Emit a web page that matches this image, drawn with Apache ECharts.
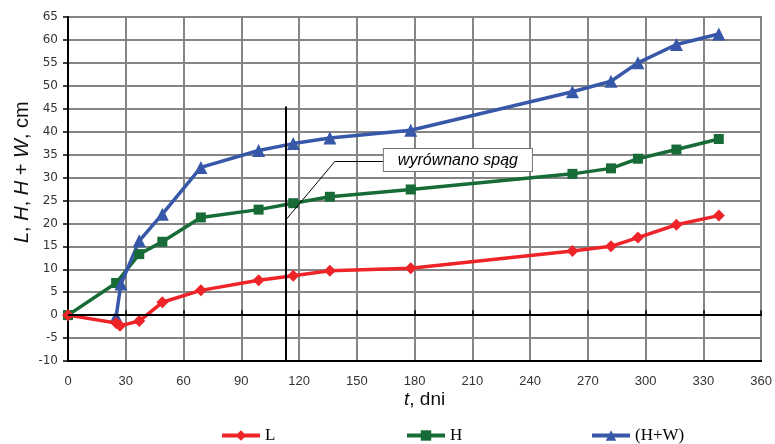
<!DOCTYPE html>
<html>
<head>
<meta charset="utf-8">
<script src="https://cdn.jsdelivr.net/npm/echarts@6/dist/echarts.min.js"></script>
<style>html,body{margin:0;padding:0;background:#fff;}#c{width:775px;height:444px;}</style>
</head>
<body>
<div id="c"></div>
<script>
// ---- data ----
var tL  = [0, 25, 27, 37, 49, 69, 99, 117, 136, 178, 262, 282, 296, 316, 338];
var L   = [0, -1.7, -2.3, -1.3, 2.8, 5.4, 7.6, 8.6, 9.7, 10.2, 14.0, 15.0, 16.9, 19.7, 21.7];
var tH  = [0, 25, 37, 49, 69, 99, 117, 136, 178, 262, 282, 296, 316, 338];
var H   = [0, 7.0, 13.3, 16.0, 21.3, 23.0, 24.4, 25.8, 27.4, 30.8, 32.0, 34.1, 36.1, 38.4];
var tHW = [25, 27.5, 37, 49, 69, 99, 117, 136, 178, 262, 282, 296, 316, 338];
var HW  = [-0.3, 6.8, 16.2, 22.0, 32.2, 35.9, 37.4, 38.6, 40.3, 48.7, 51.0, 55.0, 59.0, 61.3];
var seriesNames = ['L', 'H', '(H+W)'];
var xTicks = {min: 0, max: 360, interval: 30};
var yTicks = {min: -10, max: 65, interval: 5};
var eventT = 113;          // vertical marker line (t)
var eventTop = 45.5;
var noteText = 'wyrównano spąg';

function pairs(t, v) { return t.map(function (x, i) { return [x, v[i]]; }); }

var chart = echarts.init(document.getElementById('c'), null, {renderer: 'canvas'});
var gridCol = '#858585';
var colors = ['#ee2429', '#176b36', '#3757a8'];
var legendBase = {top: 422, itemWidth: 38, itemHeight: 13, lineStyle: {width: 4},
  textStyle: {fontFamily: 'Liberation Serif', fontSize: 17, color: '#000'}};
function lg(name, left) { return Object.assign({}, legendBase, {data: [name], left: left}); }

var option = {
  animation: false,
  grid: {left: 68, right: 12, top: 17, bottom: 83, show: true, borderColor: '#111', borderWidth: 1.5},
  legend: [lg(seriesNames[0], 215), lg(seriesNames[1], 400), lg(seriesNames[2], 585)],
  xAxis: [
    {type: 'value', min: xTicks.min, max: xTicks.max, interval: xTicks.interval,
      axisLine: {show: true, onZero: false, lineStyle: {color: '#000', width: 2}},
      axisTick: {show: false},
      axisLabel: {margin: 14, fontFamily: 'Liberation Sans', fontSize: 13, color: '#333'},
      splitLine: {show: true, lineStyle: {color: gridCol, width: 2}}},
    {type: 'value', min: xTicks.min, max: xTicks.max, interval: xTicks.interval,
      axisLine: {show: true, onZero: true, lineStyle: {color: '#000', width: 2}},
      axisTick: {show: true, inside: false, length: 5, lineStyle: {color: '#000', width: 1.5}},
      axisLabel: {show: false},
      splitLine: {show: false}}
  ],
  yAxis: {type: 'value', min: yTicks.min, max: yTicks.max, interval: yTicks.interval,
    axisLine: {show: true, lineStyle: {color: '#000', width: 2}},
    axisTick: {show: true, inside: false, length: 5, lineStyle: {color: '#000', width: 1.5}},
    axisLabel: {margin: 10, fontFamily: 'DejaVu Sans', fontSize: 12, color: '#333'},
    splitLine: {show: true, lineStyle: {color: gridCol, width: 2}}},
  graphic: [
    {type: 'text', left: 404, top: 390, silent: true,
      style: {text: '{i|t}, dni', fontFamily: 'Liberation Sans', fontSize: 19, fill: '#111',
        rich: {i: {fontStyle: 'italic', fontFamily: 'Liberation Sans', fontSize: 19}}}},
    {type: 'text', x: 12, y: 243, rotation: Math.PI / 2, silent: true,
      style: {text: '{i|L}, {i|H}, {i|H} + {i|W}, cm', fontFamily: 'Liberation Sans', fontSize: 20, fill: '#111',
        rich: {i: {fontStyle: 'italic', fontFamily: 'Liberation Sans', fontSize: 20}}}}
  ],
  series: [
    {name: seriesNames[0], type: 'line', data: pairs(tL, L), color: colors[0],
      symbol: 'diamond', symbolSize: 12, lineStyle: {width: 3.5}, z: 4,
      markLine: {silent: true, symbol: 'none', animation: false, label: {show: false},
        lineStyle: {color: '#000', width: 2, type: 'solid'},
        data: [
          [{coord: [xTicks.min, 0]}, {coord: [xTicks.max, 0]}],
          [{coord: [eventT, yTicks.min]}, {coord: [eventT, eventTop]}],
          [{coord: [113.4, 20.9], lineStyle: {width: 1}}, {coord: [138.8, 33.6]}],
          [{coord: [138.8, 33.6], lineStyle: {width: 1}}, {coord: [163.6, 33.6]}]
        ]},
      markPoint: {silent: true, symbol: 'rect', symbolSize: 0, animation: false,
        data: [{coord: [202.5, 33.8],
          label: {show: true, position: 'inside', formatter: noteText, fontFamily: 'Liberation Sans',
            fontStyle: 'italic', fontSize: 16, color: '#000', backgroundColor: '#fff',
            borderColor: '#777', borderWidth: 1, padding: [3, 14, 3, 14]}}]}},
    {name: seriesNames[1], type: 'line', data: pairs(tH, H), color: colors[1],
      symbol: 'rect', symbolSize: 10, lineStyle: {width: 3.5}, z: 3},
    {name: seriesNames[2], type: 'line', data: pairs(tHW, HW), color: colors[2],
      symbol: 'triangle', symbolSize: 13, lineStyle: {width: 3.5}, z: 3}
  ]
};
chart.setOption(option);
</script>
</body>
</html>
